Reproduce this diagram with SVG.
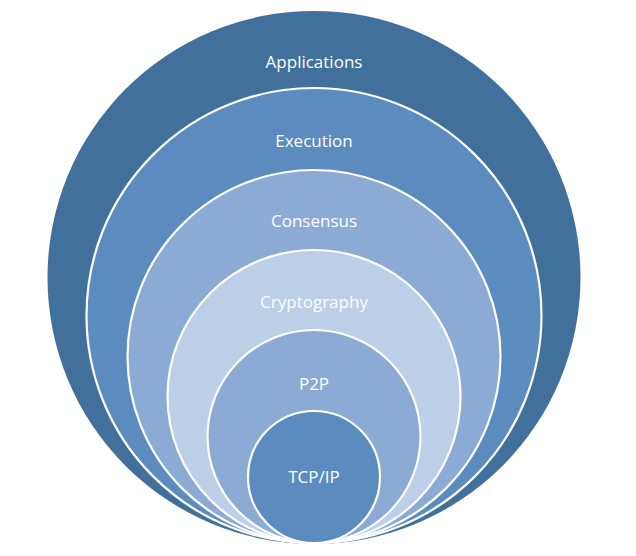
<svg xmlns="http://www.w3.org/2000/svg" width="636" height="556" viewBox="0 0 636 556">
<style>
  .ring { stroke: #FFFFFF; stroke-width: 2.2; }
  .lbl { font-family: "Open Sans", "Liberation Sans", sans-serif; font-size: 17px; fill: #FFFFFF; text-anchor: middle; }
</style>
<rect width="636" height="556" fill="#FFFFFF"/>
<g id="applications">
  <circle cx="314" cy="277.5" r="266.5" fill="#41709C"/>
  <text class="lbl" x="314" y="68">Applications</text>
</g>
<g id="execution">
  <circle class="ring" cx="314" cy="315.5" r="227.5" fill="#5B8BBF"/>
  <text class="lbl" x="314" y="147">Execution</text>
</g>
<g id="consensus">
  <circle class="ring" cx="314" cy="356.5" r="186.5" fill="#8CABD4"/>
  <text class="lbl" x="314" y="227">Consensus</text>
</g>
<g id="cryptography">
  <circle class="ring" cx="314" cy="396.5" r="146.5" fill="#BBCFE8"/>
  <text class="lbl" x="314" y="308">Cryptography</text>
</g>
<g id="p2p">
  <circle class="ring" cx="314" cy="436.5" r="106.5" fill="#8CABD4"/>
  <text class="lbl" x="314" y="390">P2P</text>
</g>
<g id="tcpip">
  <circle class="ring" cx="314" cy="477" r="66" fill="#5B8BBF"/>
  <text class="lbl" x="314" y="483">TCP/IP</text>
</g>
<g id="connectors"></g>
</svg>
